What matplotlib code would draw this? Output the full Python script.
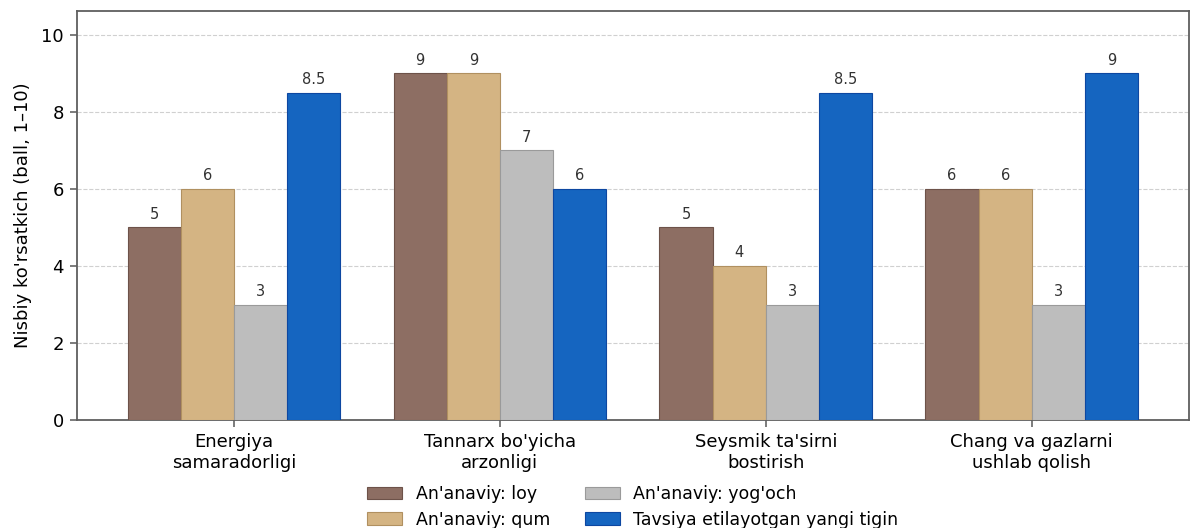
import matplotlib.pyplot as plt
import numpy as np

categories = ["Energiya\nsamaradorligi", "Tannarx bo'yicha\narzonligi",
              "Seysmik ta'sirni\nbostirish", "Chang va gazlarni\nushlab qolish"]
series_names = ["An'anaviy: loy", "An'anaviy: qum", "An'anaviy: yog'och",
                "Tavsiya etilayotgan yangi tigin"]
loy = [5, 9, 5, 6]
qum = [6, 9, 4, 6]
yogoch = [3, 7, 3, 3]
tigin = [8.5, 6, 8.5, 9]

colors = ["#8d6e63", "#d4b483", "#bdbdbd", "#1565c0"]
edges = ["#6d5249", "#b09060", "#9a9a9a", "#0d47a1"]

fig = plt.figure(figsize=(11.91, 5.28), dpi=100)
ax = fig.add_axes([0.0647, 0.2045, 0.9333, 0.7745])

x = np.arange(len(categories))
w = 0.2
for i, vals in enumerate([loy, qum, yogoch, tigin]):
    bars = ax.bar(x + (i - 1.5) * w, vals, w, color=colors[i], edgecolor=edges[i],
                  linewidth=0.8, label=series_names[i], zorder=3)
    for b, v in zip(bars, vals):
        txt = "{:g}".format(v)
        ax.annotate(txt, (b.get_x() + b.get_width() / 2, v), xytext=(0, 4),
                    textcoords="offset points", ha="center", va="bottom",
                    fontsize=10.5, color="#333333")

ax.set_ylim(0, 10.62)
ax.set_xticks(x)
ax.set_xticklabels(categories, fontsize=13)
ax.tick_params(axis="y", labelsize=13)
ax.tick_params(length=5, width=1.2, color="#666666", pad=4.5)
ax.set_ylabel("Nisbiy ko'rsatkich (ball, 1–10)", fontsize=13, labelpad=7)
ax.grid(axis="y", linestyle="--", color="#d0d0d0", linewidth=0.8, zorder=0)
for s in ax.spines.values():
    s.set_color("#5f5f5f")
    s.set_linewidth(1.3)

ax.legend(loc="upper center", bbox_to_anchor=(0.5, -0.12), ncol=2, frameon=False,
          fontsize=12.5, columnspacing=2.0, labelspacing=0.45)

fig.savefig("out.png", dpi=100)
